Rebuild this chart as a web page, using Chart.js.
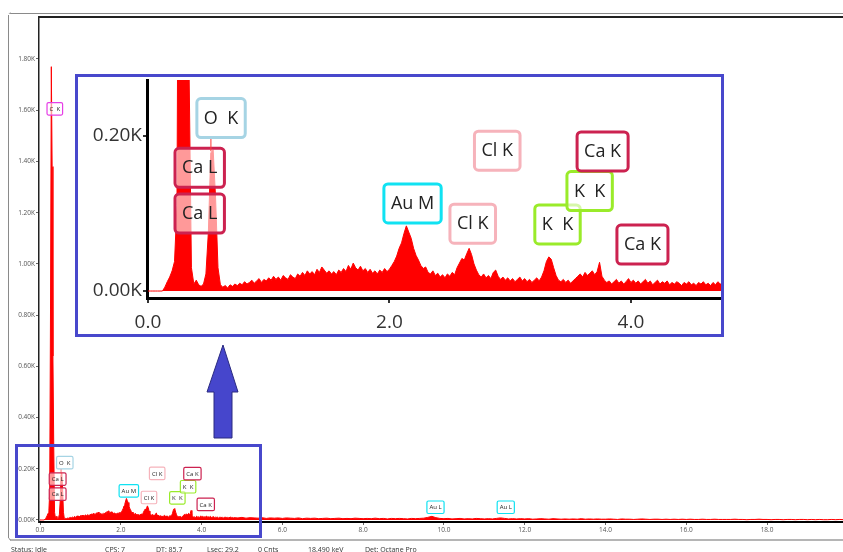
<!DOCTYPE html>
<html>
<head>
<meta charset="utf-8">
<script src="https://cdn.jsdelivr.net/npm/chart.js@4.4.0/dist/chart.umd.min.js"></script>
<style>
html,body{margin:0;padding:0;background:#fff;overflow:hidden;}
body{width:843px;height:552px;position:relative;font-family:"Open Sans",sans-serif;}
.edge{position:absolute;}
#edgeTop{left:10px;top:13px;width:833px;height:1px;background:#8a8a8a;}
#edgeLeft{left:8px;top:15px;width:1px;height:523px;background:#8a8a8a;}
#edgeBottom{left:10px;top:539px;width:833px;height:2px;background:#b5b5b5;}
#mainChart{position:absolute;left:0;top:0;}
#zoomBox{position:absolute;left:15px;top:444px;width:241px;height:88px;border:3px solid #4848cc;}
#insetBox{position:absolute;left:75px;top:74px;width:643px;height:257px;border:3px solid #4848cc;background:#fff;}
#insetChart{position:absolute;left:0;top:0;}
#arrow{position:absolute;left:0;top:0;}
#status{position:absolute;left:0;top:545px;font-size:7px;color:#333;}
#status span{position:absolute;white-space:nowrap;}
</style>
</head>
<body>
<div class="edge" id="edgeTop"></div>
<div class="edge" id="edgeLeft"></div>
<div class="edge" id="edgeBottom"></div>
<canvas id="mainChart" width="843" height="552"></canvas>
<div id="zoomBox"></div>
<svg id="arrow" width="843" height="552">
  <path d="M9,14 Q9,13 11,13 M9,538 Q9,540 11,540" stroke="#999" fill="none"/>
  <polygon points="223,345 238,392 232,392 232,438 214,438 214,392 207,392" fill="#4646cc" stroke="#2a2a80" stroke-width="1"/>
</svg>
<div id="insetBox"><canvas id="insetChart" width="643" height="257"></canvas></div>
<div id="status">
  <span style="left:11px">Status: Idle</span>
  <span style="left:105px">CPS: 7</span>
  <span style="left:156px">DT: 85.7</span>
  <span style="left:207px">Lsec: 29.2</span>
  <span style="left:258px">0 Cnts</span>
  <span style="left:308px">18.490 keV</span>
  <span style="left:365px">Det: Octane Pro</span>
</div>
<script>
// spectrum, low energy part (0.00 - 4.78 keV, 0.02 keV channels)
const lowStartKeV = 0.0;
const lowStepKeV = 0.02;
const lowCounts = [
    0,0,0,0,0,0,0,5,12,18,
    26,38,110,820,1770,1380,640,290,30,9,
    14,8,6,9,22,75,178,182,120,30,
    8,5,7,4,8,6,9,7,10,8,
    12,9,11,14,10,13,16,11,15,13,
    17,14,19,15,18,14,20,17,15,21,
    18,16,22,19,24,20,26,22,25,21,
    28,24,31,27,23,26,22,25,21,27,
    24,29,25,33,28,36,30,27,32,26,
    29,24,28,23,26,22,27,24,29,25,
    28,33,38,45,55,62,74,84,76,68,
    55,46,40,33,29,31,24,22,26,20,
    23,18,21,17,22,19,24,21,30,36,
    42,40,48,55,47,35,27,21,18,22,
    17,20,16,24,27,19,15,18,14,17,
    13,16,12,15,18,13,16,12,15,11,
    14,17,13,18,26,38,44,41,30,20,
    14,12,15,11,14,10,13,16,19,22,
    18,24,20,23,26,21,25,37,19,14,
    11,13,9,12,15,10,13,9,12,16,
    11,14,10,13,9,12,15,10,13,8,
    11,14,9,12,10,13,8,11,9,12,
    10,7,11,9,12,8,10,7,11,9,
    12,8,10,7,11,8,12,9,10,8
];
// spectrum, high energy tail (4.8 - 19.9 keV, 0.1 keV channels)
const tailStartKeV = 4.8;
const tailStepKeV = 0.1;
const tailCounts = [
    9,8,10,7,9,8,7,9,6,8,7,8,
    6,8,7,6,8,5,7,6,7,5,
    6,7,5,6,7,5,6,5,7,6,
    5,6,5,7,5,6,4,6,5,6,
    5,4,6,5,6,7,10,14,9,6,
    5,6,4,5,6,4,5,4,6,5,
    4,5,4,6,8,6,4,5,4,5,
    4,5,3,4,5,4,3,5,4,3,
    4,3,4,3,5,3,4,3,4,3,
    3,4,3,2,4,3,3,2,3,4,
    3,2,3,3,2,3,2,3,2,3,
    2,3,2,2,3,2,2,3,2,2,
    2,2,3,2,2,1,2,2,3,2,
    2,1,2,2,1,2,2,1,2,2,
    1,2,1,2,1,1,2,1,2,1
];

const mainXTicks = [0,2,4,6,8,10,12,14,16,18];
const mainYTicks = [0,200,400,600,800,1000,1200,1400,1600,1800];
const insetXTicks = [0,2,4];
const insetYTicks = [0,200];

// peak markers: name, energy (keV), box top (counts), colour, stem end (counts)
const peakNames    = ["C  K","Ca L","Ca L","O  K","Au M","Cl K","Cl K","K  K","K  K","Ca K","Ca K","Au L","Au L"];
const peakEnergies = [0.285,0.34,0.34,0.521,2.07,2.617,2.82,3.32,3.586,3.67,4.0,9.69,11.43];
const peakTops     = [1630,125,184,248,138,112,206,111,154,205,85,74,74];
const peakColors   = ["#e63ee6","#cc2250","#cc2250","#a6d4e4","#10e2f2","#f6b3bb","#f6b3bb","#9aeb2a","#9aeb2a","#cc2250","#cc2250","#10e2f2","#10e2f2"];
const peakStems    = [null,null,null,180,null,null,null,null,null,null,null,null,null];

function toPoints(start, step, counts){
    return counts.map((c, i) => ({x: +(start + i * step).toFixed(3), y: c}));
}

const lowPoints = toPoints(lowStartKeV, lowStepKeV, lowCounts);
const tailPoints = toPoints(tailStartKeV, tailStepKeV, tailCounts);

const peakLabelPlugin = {
    id:"peakLabels",
    afterDatasetsDraw(chart, args, opts){
        const {ctx, chartArea, scales} = chart;
        const x = scales.x, y = scales.y;
        ctx.save();
        if(opts.topBorder){
            ctx.strokeStyle = "#222";
            ctx.lineWidth = opts.topBorder;
            ctx.beginPath();
            ctx.moveTo(chartArea.left, chartArea.top);
            ctx.lineTo(chartArea.right, chartArea.top);
            ctx.stroke();
        }
        ctx.font = `${opts.fontSize}px "Open Sans"`;
        ctx.textBaseline = "middle";
        for(let i = 0; i < peakNames.length; i++){
            const e = peakEnergies[i];
            if(e < x.min || e > x.max || peakTops[i] > y.max) continue;
            const px = x.getPixelForValue(e);
            const py = y.getPixelForValue(peakTops[i]);
            const w = ctx.measureText(peakNames[i]).width + opts.padX * 2;
            const left = px - opts.anchor;
            if(peakStems[i] !== null){
                ctx.strokeStyle = "rgba(255,60,60,0.7)";
                ctx.lineWidth = opts.stemW;
                ctx.beginPath();
                ctx.moveTo(px, py + opts.boxH);
                ctx.lineTo(px, y.getPixelForValue(peakStems[i]));
                ctx.stroke();
            }
            ctx.beginPath();
            ctx.roundRect(left, py, w, opts.boxH, opts.radius);
            ctx.fillStyle = "rgba(255,255,255,0.6)";
            ctx.fill();
            ctx.lineWidth = opts.lineW;
            ctx.strokeStyle = peakColors[i];
            ctx.stroke();
            ctx.fillStyle = "#222";
            ctx.fillText(peakNames[i], left + opts.padX, py + opts.boxH / 2 + 0.5);
        }
        ctx.restore();
    }
};

function spectrumDataset(points){
    return {
        data:points,
        borderColor:"#ff0000",
        backgroundColor:"#ff0000",
        borderWidth:1,
        pointRadius:0,
        fill:"origin",
        tension:0
    };
}

function fixedTicks(values){
    return (scale) => { scale.ticks = values.map((v) => ({value:v})); };
}

// lock axis sizes so the plot area lands where the picture has it
function fixWidth(w){
    return (s) => { s.width = w; s.paddingTop = 0; s.paddingBottom = 0; };
}
function fixHeight(h){
    return (s) => { s.height = h; s.paddingLeft = 0; s.paddingRight = 0; };
}

new Chart(document.getElementById("mainChart").getContext("2d"),{
    type:"line",
    data:{datasets:[spectrumDataset(lowPoints.concat(tailPoints))]},
    options:{
        responsive:false,
        animation:false,
        events:[],
        layout:{padding:{top:17,right:0,left:0,bottom:0}},
        plugins:{
            legend:{display:false},
            tooltip:{enabled:false},
            peakLabels:{topBorder:2,fontSize:6,padX:2.5,anchor:4.5,boxH:12.5,radius:1.5,lineW:1.2,stemW:1}
        },
        scales:{
            x:{
                type:"linear",
                min:-0.025,
                max:19.88,
                afterBuildTicks:fixedTicks(mainXTicks),
                afterFit:fixHeight(30),
                border:{color:"#000",width:2},
                grid:{drawOnChartArea:false,tickLength:3,color:"#666"},
                ticks:{font:{size:6.5,family:"Open Sans"},color:"#555",padding:1,maxRotation:0,autoSkip:false,callback:(v) => v.toFixed(1)}
            },
            y:{
                type:"linear",
                min:-8,
                max:1964,
                afterBuildTicks:fixedTicks(mainYTicks),
                afterFit:fixWidth(39),
                border:{color:"#222",width:1.5},
                grid:{drawOnChartArea:false,tickLength:3,color:"#666"},
                ticks:{font:{size:6.5,family:"Open Sans"},color:"#555",padding:1,callback:(v) => (v / 1000).toFixed(2) + "K"}
            }
        }
    },
    plugins:[peakLabelPlugin]
});

new Chart(document.getElementById("insetChart").getContext("2d"),{
    type:"line",
    data:{datasets:[spectrumDataset(lowPoints)]},
    options:{
        responsive:false,
        animation:false,
        events:[],
        layout:{padding:{top:3,right:0,left:0,bottom:0}},
        plugins:{
            legend:{display:false},
            tooltip:{enabled:false},
            peakLabels:{topBorder:0,fontSize:18,padX:7,anchor:14,boxH:39,radius:4,lineW:3,stemW:1.5}
        },
        scales:{
            x:{
                type:"linear",
                min:-0.008,
                max:4.746,
                afterBuildTicks:fixedTicks(insetXTicks),
                afterFit:fixHeight(36),
                border:{color:"#000",width:3},
                grid:{drawOnChartArea:false,tickLength:5,color:"#333",lineWidth:2},
                ticks:{font:{size:19,family:"Open Sans"},color:"#333",padding:8,maxRotation:0,autoSkip:false,callback:(v) => v.toFixed(1)}
            },
            y:{
                type:"linear",
                min:-9,
                max:272,
                afterBuildTicks:fixedTicks(insetYTicks),
                afterFit:fixWidth(69),
                border:{color:"#000",width:3},
                grid:{drawOnChartArea:false,tickLength:4,color:"#333",lineWidth:2},
                ticks:{font:{size:19,family:"Open Sans"},color:"#333",padding:1,callback:(v) => (v / 1000).toFixed(2) + "K"}
            }
        }
    },
    plugins:[peakLabelPlugin]
});
</script>
</body>
</html>
